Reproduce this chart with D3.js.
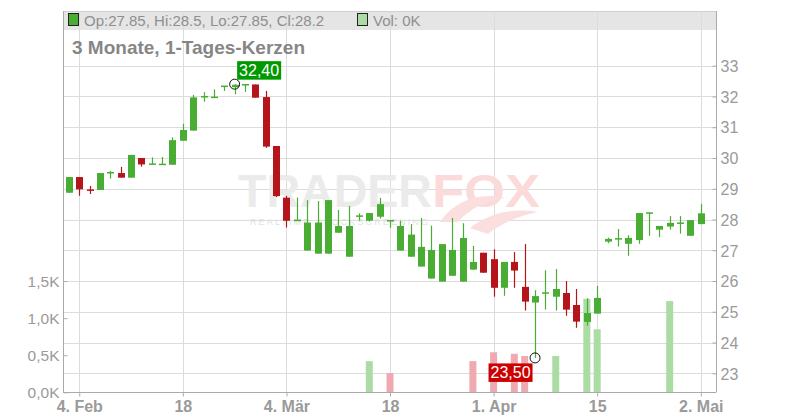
<!DOCTYPE html>
<html><head><meta charset="utf-8">
<script src="https://cdn.jsdelivr.net/npm/d3@7/dist/d3.min.js"></script>
<style>
body{margin:0;background:#fff}
svg{display:block;font-family:"Liberation Sans",Arial,sans-serif}
</style>
</head><body>
<svg id="chart" width="800" height="420"></svg>
<script>
// ---------- DATA ----------
const dates = [
"2019-02-01",
"2019-02-04","2019-02-05","2019-02-06","2019-02-07","2019-02-08",
"2019-02-11","2019-02-12","2019-02-13","2019-02-14","2019-02-15",
"2019-02-18","2019-02-19","2019-02-20","2019-02-21","2019-02-22",
"2019-02-25","2019-02-26","2019-02-27","2019-02-28","2019-03-01",
"2019-03-04","2019-03-05","2019-03-06","2019-03-07","2019-03-08",
"2019-03-11","2019-03-12","2019-03-13","2019-03-14","2019-03-15",
"2019-03-18","2019-03-19","2019-03-20","2019-03-21","2019-03-22",
"2019-03-25","2019-03-26","2019-03-27","2019-03-28","2019-03-29",
"2019-04-01","2019-04-02","2019-04-03","2019-04-04","2019-04-05",
"2019-04-08","2019-04-09","2019-04-10","2019-04-11","2019-04-12",
"2019-04-15","2019-04-16","2019-04-17","2019-04-18",
"2019-04-23","2019-04-24","2019-04-25","2019-04-26",
"2019-04-29","2019-04-30",
"2019-05-02"];

const open  = [28.87,29.38,28.96,28.96,29.52,29.51,29.36,30.00,29.80,29.79,
               29.78,30.56,30.89,31.99,31.97,32.33,32.30,32.38,32.39,31.98,
               30.39,28.71,27.97,26.99,26.89,26.89,27.57,26.79,28.11,27.96,
               28.09,27.96,26.99,26.79,26.47,26.08,25.98,26.17,25.98,26.37,
               26.92,26.71,25.78,26.62,25.81,25.30,25.61,25.49,25.61,25.22,
               24.67,24.94,27.28,27.37,27.21,27.33,28.21,27.67,27.77,27.88,
               27.47,27.85];
const high  = [29.38,29.38,29.09,29.51,29.58,29.71,30.10,30.00,30.02,30.03,
               30.67,31.11,32.05,32.14,32.23,32.33,32.40,32.38,32.39,32.18,
               30.39,28.77,28.71,28.63,28.60,28.63,28.31,28.44,28.20,28.21,
               28.70,27.96,27.96,27.85,28.05,27.80,27.20,28.05,27.88,27.14,
               26.92,27.03,26.62,26.94,27.20,25.70,26.35,26.39,26.00,25.74,
               25.44,25.84,27.41,27.69,27.49,28.21,28.23,27.79,28.11,28.11,
               27.98,28.50];
const low   = [28.87,28.77,28.83,28.96,29.33,29.36,29.36,29.72,29.80,29.79,
               29.78,30.56,30.89,31.83,31.97,32.18,32.07,32.15,31.96,30.33,
               28.73,27.74,27.97,26.99,26.89,26.89,27.57,26.79,27.96,27.93,
               28.03,27.73,26.99,26.79,26.47,26.08,25.98,26.17,25.98,26.37,
               26.27,25.49,25.52,25.78,25.04,23.50,25.07,25.04,24.87,24.48,
               24.55,24.94,27.23,27.12,26.82,27.21,27.47,27.43,27.67,27.54,
               27.47,27.85];
const close = [29.38,28.98,28.95,29.51,29.52,29.36,30.10,29.79,29.80,29.79,
               30.58,30.91,31.97,31.99,31.97,32.33,32.38,32.38,31.96,30.37,
               28.76,27.96,27.97,27.90,27.90,28.63,27.79,27.79,28.11,28.21,
               28.50,27.96,27.79,27.51,27.11,27.01,27.20,27.01,27.40,26.62,
               26.27,25.78,26.62,26.34,25.33,25.51,25.61,25.74,25.07,24.68,
               24.96,25.45,27.37,27.37,27.40,28.21,28.21,27.79,27.89,27.88,
               27.98,28.20];
const volume = [0,0,0,0,0,0,0,0,0,0,
                0,0,0,0,0,0,0,0,0,0,
                0,0,0,0,0,0,0,0,0,420,
                0,260,0,0,0,0,0,0,0,420,
                0,540,0,520,490,0,0,490,0,0,
                1260,850,0,0,0,0,0,0,1230,0,
                0,0];

const priceTicks = [23,24,25,26,27,28,29,30,31,32,33];
const volumeTicks = [0,500,1000,1500];
const xTickDates  = ["2019-02-04","2019-02-18","2019-03-04","2019-03-18","2019-04-01","2019-04-15","2019-05-02"];
const xTickLabels = ["4. Feb","18","4. Mär","18","1. Apr","15","2. Mai"];
const titleText = "3 Monate, 1-Tages-Kerzen";
const legendText = "Op:27.85, Hi:28.5, Lo:27.85, Cl:28.2";
const volLegendText = "Vol: 0K";
const maxLabel = "32,40";
const minLabel = "23,50";

// ---------- LAYOUT ----------
const L = 63, R = 716, T = 11, B = 392.3;
const GREEN = "#49ad33", RED = "#b4141a";
const VGREEN = "#abdca4", VRED = "#efa9b1";
const fmtK = d => (d/1000).toFixed(1).replace(".", ",") + "K";

const svg = d3.select("#chart");

const idx = d3.range(dates.length);
const x = d3.scaleLinear().domain([-0.57, 62.47]).range([L, R]);
const y = d3.scaleLinear().domain([23, 33]).range([373.3, 65.7]);
const v = d3.scaleLinear().domain([0, 1500]).range([B, 281.1]);
const bw = 7;

// header band
svg.append("rect").attr("x", L).attr("y", T).attr("width", R - L).attr("height", 19).attr("fill", "#e5e5e5");
svg.append("line").attr("x1", L).attr("x2", R).attr("y1", T + 0.5).attr("y2", T + 0.5).attr("stroke", "#cfcfcf");

// grid
const xTickIdx = xTickDates.map(d => dates.indexOf(d));
svg.append("g").selectAll("line").data(priceTicks).join("line")
  .attr("x1", L).attr("x2", R).attr("y1", d => Math.round(y(d)) + 0.5).attr("y2", d => Math.round(y(d)) + 0.5)
  .attr("stroke", "#dcdcdc");
svg.append("g").selectAll("line").data(xTickIdx).join("line")
  .attr("x1", d => Math.round(x(d)) + 0.5).attr("x2", d => Math.round(x(d)) + 0.5)
  .attr("y1", T).attr("y2", B).attr("stroke", "#dcdcdc");

// watermark
const wm = svg.append("g");
wm.append("text").attr("x", 238).attr("y", 207).attr("font-size", 46).attr("font-weight", "bold")
  .attr("fill", "#ebebeb").attr("textLength", 194).attr("lengthAdjust", "spacingAndGlyphs").text("TRADER");
wm.append("text").attr("x", 432).attr("y", 207).attr("font-size", 46).attr("font-weight", "bold")
  .attr("fill", "#fbdada").attr("textLength", 108).attr("lengthAdjust", "spacingAndGlyphs").text("FOX");
wm.append("text").attr("x", 250).attr("y", 225).attr("font-size", 9)
  .attr("fill", "#e2e2e2").attr("textLength", 178).attr("lengthAdjust", "spacing").text("REALTIME STOCKSCREENING");
wm.append("path").attr("d", "M440,222 C455,200 480,192 505,198 C488,200 470,208 458,222 Z M470,228 C490,212 515,208 538,212 C518,216 500,224 488,234 Z")
  .attr("fill", "#fbdede");

// volume bars
svg.append("g").selectAll("rect").data(idx.filter(i => volume[i] > 0)).join("rect")
  .attr("x", i => x(i) - bw / 2).attr("width", bw)
  .attr("y", i => v(volume[i])).attr("height", i => B - v(volume[i]))
  .attr("fill", i => (i > 0 && close[i] < close[i - 1]) ? VRED : VGREEN);

// candles
const cg = svg.append("g");
idx.forEach(i => {
  const col = close[i] >= open[i] ? GREEN : RED;
  const cx = Math.round(x(i)) + 0.5;
  cg.append("line").attr("x1", cx).attr("x2", cx).attr("y1", y(high[i])).attr("y2", y(low[i]))
    .attr("stroke", col).attr("stroke-width", 1.2);
  const top = y(Math.max(open[i], close[i])), bot = y(Math.min(open[i], close[i]));
  const h = Math.max(1.5, bot - top);
  cg.append("rect").attr("x", cx - bw / 2).attr("width", bw)
    .attr("y", h === 1.5 ? (top + bot) / 2 - 0.75 : top).attr("height", h).attr("fill", col);
});

// axes
const axStyle = g => {
  g.select(".domain").attr("stroke", "#aaaaaa");
  g.selectAll(".tick line").attr("stroke", "#aaaaaa");
  g.selectAll("text").attr("fill", "#9a9a9a").attr("font-family", '"Liberation Sans",Arial,sans-serif');
};
svg.append("g").attr("transform", `translate(${R + 0.5},0)`)
  .call(d3.axisRight(y).tickValues(priceTicks).tickSizeInner(-4).tickSizeOuter(0).tickPadding(4).tickFormat(d3.format("d")))
  .call(axStyle).call(g => g.select(".domain").attr("d", `M0,${T}V${B}`))
  .call(g => g.selectAll("text").attr("font-size", 16).attr("dy", "0.36em"));
svg.append("g").attr("transform", `translate(${L + 0.5},0)`)
  .call(d3.axisLeft(v).tickValues(volumeTicks).tickSizeInner(-4).tickSizeOuter(0).tickPadding(4).tickFormat(fmtK))
  .call(axStyle).call(g => g.select(".domain").attr("d", `M0,${T}V${B}`))
  .call(g => g.selectAll("text").attr("font-size", 15.5).attr("dy", "0.36em"));
svg.append("g").attr("transform", `translate(0,${Math.round(B) + 0.5})`)
  .call(d3.axisBottom(x).tickValues(xTickIdx).tickSizeInner(4).tickSizeOuter(0).tickPadding(4).tickFormat((d, k) => xTickLabels[k]))
  .call(axStyle).call(g => g.select(".domain").attr("d", `M${L},0H${R}`))
  .call(g => g.selectAll("text").attr("font-size", 16).attr("font-weight", "bold"));

// legend
svg.append("rect").attr("x", 68.5).attr("y", 13.5).attr("width", 10).attr("height", 12).attr("fill", GREEN).attr("stroke", "#222");
svg.append("text").attr("x", 84).attr("y", 26).attr("font-size", 15).attr("fill", "#8f8f8f").text(legendText);
svg.append("rect").attr("x", 357.5).attr("y", 13.5).attr("width", 10).attr("height", 12).attr("fill", VGREEN).attr("stroke", "#222");
svg.append("text").attr("x", 373).attr("y", 26).attr("font-size", 15).attr("fill", "#8f8f8f").text(volLegendText);

// title
svg.append("text").attr("x", 72).attr("y", 54).attr("font-size", 19).attr("font-weight", "bold")
  .attr("fill", "#868686").text(titleText);

// extremes
const iMax = d3.maxIndex(high), iMin = d3.minIndex(low);
const px = x(iMax), py = y(high[iMax]);
svg.append("rect").attr("x", px + 2.5).attr("y", py - 23).attr("width", 44).attr("height", 18.5).attr("fill", "#009900");
svg.append("text").attr("x", px + 24.5).attr("y", py - 8.5).attr("text-anchor", "middle").attr("font-size", 16)
  .attr("fill", "#fff").text(maxLabel);
svg.append("circle").attr("cx", px).attr("cy", py).attr("r", 5).attr("fill", "none").attr("stroke", "#111");

const qx = x(iMin), qy = y(low[iMin]);
svg.append("rect").attr("x", qx - 46.5).attr("y", qy + 5.5).attr("width", 44).attr("height", 18.5).attr("fill", "#cc0000");
svg.append("text").attr("x", qx - 24.5).attr("y", qy + 20).attr("text-anchor", "middle").attr("font-size", 16)
  .attr("fill", "#fff").text(minLabel);
svg.append("circle").attr("cx", qx).attr("cy", qy).attr("r", 5).attr("fill", "none").attr("stroke", "#111");
</script>
</body></html>
